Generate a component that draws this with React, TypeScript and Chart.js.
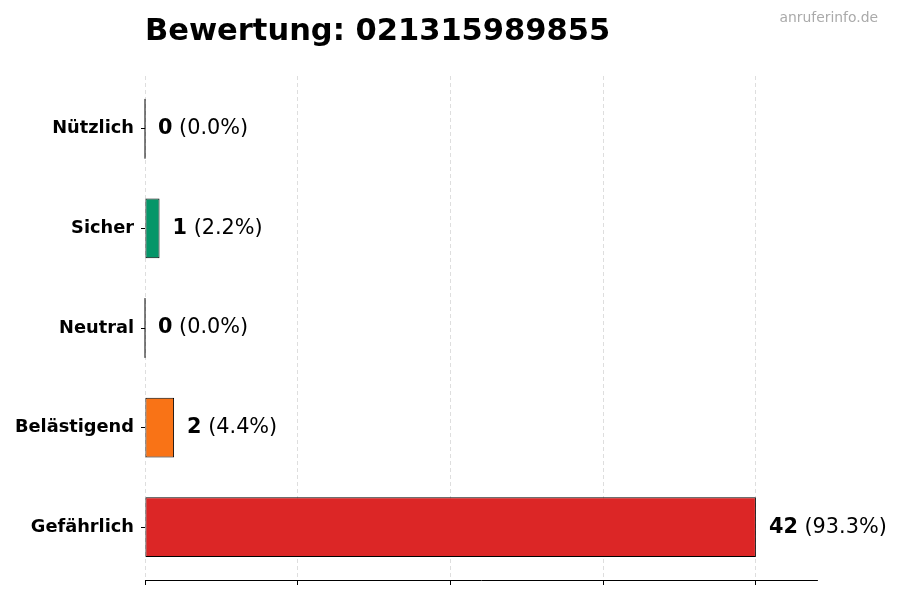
import { useEffect, useRef } from 'react';
import { Chart, registerables } from 'chart.js';

Chart.register(...registerables);

// chart data
const categories = ['Nützlich', 'Sicher', 'Neutral', 'Belästigend', 'Gefährlich'];
const counts = [0, 1, 0, 2, 42];
const barColors = ['#2563eb', '#059669', '#9ca3af', '#f97316', '#dc2626'];
const xTickValues = [0, 10.5, 21, 31.5, 42];
const xMax = 46.2;
const chartTitle = 'Bewertung: 021315989855';
const watermark = 'anruferinfo.de';

const FONT = '"DejaVu Sans", sans-serif';

// value labels, zero-bar outlines, title and watermark
const labelPlugin = {
  id: 'valueLabels',
  afterDraw(chart: any) {
    const ctx = chart.ctx;
    const meta = chart.getDatasetMeta(0);
    const total = counts.reduce((a, b) => a + b, 0);
    ctx.save();
    meta.data.forEach((bar: any, i: number) => {
      const { x, y, height } = bar.getProps(['x', 'y', 'height'], true);
      if (counts[i] === 0) {
        ctx.strokeStyle = '#000';
        ctx.lineWidth = 1;
        ctx.beginPath();
        ctx.moveTo(x, y - height / 2);
        ctx.lineTo(x, y + height / 2);
        ctx.stroke();
      }
      const pct = total ? ((counts[i] / total) * 100).toFixed(1) : '0.0';
      const num = String(counts[i]);
      ctx.fillStyle = '#000';
      ctx.textAlign = 'left';
      ctx.textBaseline = 'middle';
      ctx.font = `bold 20.8px ${FONT}`;
      ctx.fillText(num, x + 13, y);
      const w = ctx.measureText(num).width;
      ctx.font = `20.8px ${FONT}`;
      const sp = ctx.measureText(' ').width;
      ctx.fillText(`(${pct}%)`, x + 13 + w + sp, y);
    });

    ctx.textBaseline = 'alphabetic';
    ctx.textAlign = 'left';
    ctx.fillStyle = '#000';
    ctx.font = `bold 30.5px ${FONT}`;
    ctx.fillText(chartTitle, chart.chartArea.left, 40);

    ctx.textAlign = 'right';
    ctx.fillStyle = '#aaaaaa';
    ctx.font = `13.9px ${FONT}`;
    ctx.fillText(watermark, 878, 22);
    ctx.restore();
  }
};

export default function App() {
  const canvasRef = useRef<HTMLCanvasElement | null>(null);
  const chartInstance = useRef<Chart | null>(null);

  useEffect(() => {
    if (!canvasRef.current) return;
    const ctx = canvasRef.current.getContext('2d');
    if (!ctx) return;

    chartInstance.current = new Chart(ctx, {
      type: 'bar',
      data: {
        datasets: [
          {
            data: counts.map((v, i) => ({ x: v, y: i })),
            backgroundColor: barColors,
            borderColor: '#000',
            borderWidth: 1,
            borderSkipped: false,
            barPercentage: 0.6,
            categoryPercentage: 1
          }
        ]
      },
      options: {
        indexAxis: 'y',
        animation: false,
        responsive: false,
        layout: { padding: { top: 76, right: 83, left: 0, bottom: 0 } },
        scales: {
          x: {
            type: 'linear',
            position: 'bottom',
            min: 0,
            max: xMax,
            z: 1,
            afterBuildTicks: (scale: any) => {
              scale.ticks = xTickValues.map(v => ({ value: v }));
            },
            afterFit: (scale: any) => {
              scale.height = 20;
            },
            ticks: { callback: () => '', padding: 0 },
            grid: {
              color: '#d6d6d6',
              lineWidth: 0.8,
              tickColor: '#000',
              tickLength: 5,
              tickWidth: 1
            },
            border: { display: true, color: '#000', width: 1, dash: [4, 3] }
          },
          y: {
            type: 'linear',
            reverse: true,
            offset: false,
            min: -0.53,
            max: categories.length - 1 + 0.53,
            afterBuildTicks: (scale: any) => {
              scale.ticks = categories.map((_, i) => ({ value: i }));
            },
            afterFit: (scale: any) => {
              scale.width = 145;
            },
            grid: {
              display: true,
              offset: false,
              drawOnChartArea: false,
              tickLength: 4,
              tickColor: '#000',
              tickWidth: 1
            },
            border: { display: false },
            ticks: {
              color: '#000',
              padding: 7,
              callback: (value: any) => categories[Math.round(Number(value))] ?? '',
              font: { family: FONT, size: 17.8, weight: 'bold' }
            }
          }
        },
        plugins: {
          legend: { display: false },
          tooltip: { enabled: false },
          title: { display: false }
        }
      } as any,
      plugins: [labelPlugin]
    });

    return () => {
      if (chartInstance.current) {
        chartInstance.current.destroy();
        chartInstance.current = null;
      }
    };
  }, []);

  return (
    <div style={{ position: 'fixed', left: 0, top: 0, width: 900, height: 600, background: '#fff' }}>
      <canvas ref={canvasRef} width={900} height={600}></canvas>
    </div>
  );
}
